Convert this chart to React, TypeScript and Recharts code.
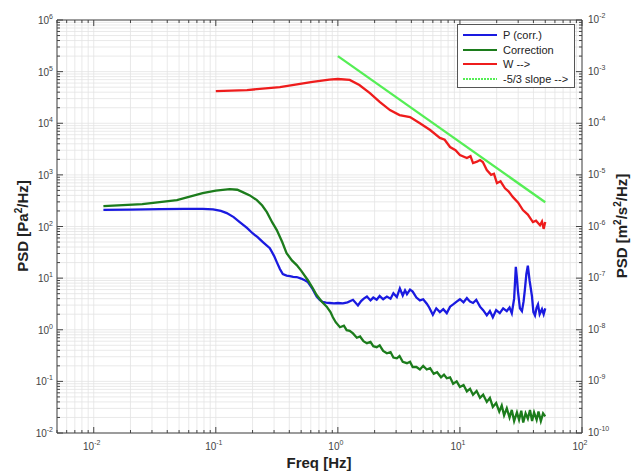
import { LineChart, Line, XAxis, YAxis, CartesianGrid, ReferenceLine } from 'recharts';

// P (corr.) - left axis [Pa^2/Hz]
const pFreq = [0.012, 0.02, 0.035, 0.055, 0.078, 0.095, 0.11, 0.123, 0.14, 0.157, 0.18, 0.2, 0.22, 0.243, 0.277, 0.3, 0.316, 0.335, 0.354, 0.38, 0.404, 0.43, 0.46, 0.5, 0.54, 0.568, 0.62, 0.67, 0.71, 0.75, 0.8, 0.86, 0.93, 1.0, 1.1, 1.2, 1.33, 1.46, 1.55, 1.63, 1.73, 1.85, 1.95, 2.08, 2.2, 2.35, 2.52, 2.7, 2.85, 3.04, 3.22, 3.4, 3.55, 3.68, 3.9, 4.1, 4.4, 4.7, 5.0, 5.35, 5.6, 6.0, 6.4, 6.85, 7.3, 7.8, 8.3, 8.8, 9.4, 10, 10.7, 11.4, 12.1, 12.8, 13.6, 14.6, 15.5, 16.6, 17.6, 18.6, 19.8, 21.2, 22.6, 24.2, 25.5, 26.6, 27.8, 28.7, 29.3, 29.9, 31, 32.2, 33.2, 34, 35, 36, 37.2, 38.9, 40, 41.2, 42.5, 43.6, 45, 47, 48.5, 50];
const pPsd = [210, 212, 217, 219, 220, 214, 200, 182, 152, 122, 94, 74, 62, 50, 38, 27, 20.4, 15, 12, 11.2, 10.9, 10.6, 10.5, 9.8, 9, 8.4, 6.2, 4.4, 3.8, 3.45, 3.35, 3.3, 3.25, 3.3, 3.25, 3.4, 3.8, 2.95, 3.6, 4.0, 4.4, 3.7, 4.2, 3.8, 4.5, 3.9, 4.4, 4.0, 5.1, 4.3, 6.3, 4.6, 5.8, 4.9, 6.0, 5.5, 4.2, 3.7, 3.9, 3.2, 2.7, 1.95, 2.6, 2.2, 2.5, 2.1, 2.8, 3.1, 3.5, 3.9, 3.4, 4.1, 3.5, 3.3, 3.8, 2.8, 2.4, 1.9, 2.3, 1.75, 2.4, 2.1, 2.6, 2.3, 2.7, 2.1, 4.0, 16.5, 10, 5.5, 2.6, 2.3, 3.5, 5.8, 12, 17.5, 9, 4.5, 2.2, 1.9, 2.7, 3.1, 2.0, 2.5, 2.0, 2.6];

// Correction - left axis
const corrFreq = [0.012, 0.025, 0.048, 0.078, 0.1, 0.13, 0.15, 0.166, 0.19, 0.217, 0.24, 0.262, 0.29, 0.316, 0.35, 0.38, 0.42, 0.46, 0.5, 0.568, 0.62, 0.67, 0.73, 0.81, 0.87, 0.91, 0.96, 1.04, 1.12, 1.18, 1.25, 1.33, 1.43, 1.52, 1.62, 1.73, 1.85, 1.95, 2.08, 2.2, 2.35, 2.52, 2.7, 2.85, 3.04, 3.2, 3.4, 3.68, 3.9, 4.1, 4.4, 4.7, 5.0, 5.35, 5.7, 6.1, 6.5, 7.0, 7.4, 7.8, 8.3, 8.8, 9.4, 10, 10.7, 11.4, 12.1, 12.8, 13.7, 14.6, 15.5, 16.6, 17.6, 18.6, 19.8, 21, 22, 23, 24.2, 25.5, 26.6, 27.8, 29.3, 30.5, 31.8, 33, 34.5, 36, 37.5, 39, 40.5, 42.5, 44, 46, 48, 50];
const corrPsd = [248, 272, 324, 443, 495, 531, 515, 464, 400, 324, 255, 190, 120, 85, 50, 30.5, 22, 17.9, 14, 9.1, 6.5, 4.7, 3.6, 2.8, 2.2, 1.75, 1.4, 1.12, 1.2, 0.98, 0.95, 0.85, 0.7, 0.74, 0.6, 0.55, 0.58, 0.48, 0.46, 0.5, 0.39, 0.35, 0.37, 0.29, 0.28, 0.31, 0.24, 0.225, 0.24, 0.19, 0.19, 0.17, 0.2, 0.17, 0.18, 0.14, 0.15, 0.12, 0.135, 0.115, 0.12, 0.09, 0.1, 0.078, 0.085, 0.064, 0.072, 0.055, 0.065, 0.048, 0.055, 0.04, 0.048, 0.032, 0.038, 0.026, 0.034, 0.022, 0.03, 0.02, 0.028, 0.017, 0.025, 0.018, 0.027, 0.016, 0.024, 0.019, 0.028, 0.017, 0.025, 0.018, 0.026, 0.017, 0.024, 0.021];

// W - right axis [m^2/s^2/Hz]
const wFreq = [0.1, 0.18, 0.335, 0.62, 0.85, 1.0, 1.25, 1.5, 1.83, 2.2, 2.67, 3.2, 3.9, 4.7, 5.7, 6.85, 7.5, 8.3, 9.2, 10, 11.4, 12.2, 12.8, 13.8, 14.6, 15.4, 16.6, 18, 19, 20.1, 21.5, 23.4, 25, 27.2, 30, 32.8, 36, 39.6, 42, 45.3, 47, 48.5, 50];
const wPsd = [4.2e-4, 4.4e-4, 5.0e-4, 6.3e-4, 7.0e-4, 7.2e-4, 6.9e-4, 5.5e-4, 3.85e-4, 2.6e-4, 1.8e-4, 1.44e-4, 1.32e-4, 1.0e-4, 7.4e-5, 5.2e-5, 4.8e-5, 3.46e-5, 3.0e-5, 2.42e-5, 2.12e-5, 2.3e-5, 1.69e-5, 1.8e-5, 1.94e-5, 1.77e-5, 1.24e-5, 1.0e-5, 1.05e-5, 6.9e-6, 7.5e-6, 5.5e-6, 4.8e-6, 3.7e-6, 2.9e-6, 2.08e-6, 1.7e-6, 1.22e-6, 1.3e-6, 1.06e-6, 1.25e-6, 0.9e-6, 1.22e-6];

// -5/3 slope - right axis
const slopeFreq = [1, 50];
const slopePsd = [2e-3, 2.95e-6];

const xMajor = [0.01, 0.1, 1, 10, 100];
const leftMajor = [1e-2, 1e-1, 1, 1e1, 1e2, 1e3, 1e4, 1e5, 1e6];
const rightMajor = [1e-10, 1e-9, 1e-8, 1e-7, 1e-6, 1e-5, 1e-4, 1e-3, 1e-2];

const withMinor = (major: number[]) => {
  const out: number[] = [];
  major.forEach((m, i) => {
    out.push(m);
    if (i < major.length - 1) {
      for (let d = 2; d <= 9; d++) out.push(Number((d * m).toPrecision(3)));
    }
  });
  return out;
};

const xTicks = [0.005, 0.006, 0.007, 0.008, 0.009, ...withMinor(xMajor)];
const leftTicks = withMinor(leftMajor);
const rightTicks = withMinor(rightMajor);

const toPoints = (f: number[], v: number[]) => f.map((x, i) => ({ f: x, v: v[i] }));

const W = 632;
const H = 474;
const PLOT_TOP = 20;
const PLOT_H = 413;
const PLOT_W = 525;
const AXIS = '#444';
const FONT = '"Liberation Sans", Arial, Helvetica, sans-serif';

const isMajor = (v: number) => Math.abs(Math.log10(v) - Math.round(Math.log10(v))) < 1e-6;
const expOf = (v: number) => Math.round(Math.log10(v));

const XTick = ({ x, y, payload }: any) => {
  const major = isMajor(payload.value);
  const len = major ? 6 : 3;
  return (
    <g>
      <line x1={x} x2={x} y1={y} y2={y - len} stroke={AXIS} />
      <line x1={x} x2={x} y1={y - PLOT_H} y2={y - PLOT_H + len} stroke={AXIS} />
      {major && (
        <text x={x - 2} y={y + 17} textAnchor="middle" fontSize={10} fill="#444" fontFamily={FONT}>
          10<tspan dy={-5} fontSize={7}>{expOf(payload.value)}</tspan>
        </text>
      )}
    </g>
  );
};

const LeftTick = ({ x, y, payload }: any) => {
  const major = isMajor(payload.value);
  const len = major ? 6 : 3;
  return (
    <g>
      <line x1={x} x2={x + len} y1={y} y2={y} stroke={AXIS} />
      {major && (
        <text x={x - 4} y={y + 4} textAnchor="end" fontSize={10} fill="#444" fontFamily={FONT}>
          10<tspan dy={-5} fontSize={7}>{expOf(payload.value)}</tspan>
        </text>
      )}
    </g>
  );
};

const RightTick = ({ x, y, payload }: any) => {
  const major = isMajor(payload.value);
  const len = major ? 6 : 3;
  return (
    <g>
      <line x1={x} x2={x - len} y1={y} y2={y} stroke={AXIS} />
      {major && (
        <text x={x + 6} y={y + 3} textAnchor="start" fontSize={10} fill="#444" fontFamily={FONT}>
          10<tspan dy={-5} fontSize={7}>{expOf(payload.value)}</tspan>
        </text>
      )}
    </g>
  );
};

const legendItems = [
  { label: 'P (corr.)', color: '#1a1ae0', dash: false },
  { label: 'Correction', color: '#1c7c1c', dash: false },
  { label: 'W -->', color: '#ee1c1c', dash: false },
  { label: '-5/3 slope -->', color: '#55ee55', dash: true },
];

export default function App() {
  return (
    <div style={{ position: 'absolute', left: 0, top: 0, width: W, height: H, background: '#fff', fontFamily: FONT }}>
      <LineChart width={W} height={H} margin={{ top: PLOT_TOP, right: 0, bottom: 0, left: 0 }}>
        <CartesianGrid yAxisId="left" stroke="#e3e3e3" strokeWidth={0.8} />
        <XAxis
          dataKey="f"
          type="number"
          scale="log"
          domain={[0.005, 100]}
          allowDataOverflow
          ticks={xTicks}
          interval={0}
          tickSize={0}
          tickMargin={0}
          tickLine={false}
          height={H - PLOT_TOP - PLOT_H}
          axisLine={{ stroke: AXIS }}
          tick={<XTick />}
        />
        <YAxis
          yAxisId="left"
          type="number"
          scale="log"
          domain={[1e-2, 1e6]}
          allowDataOverflow
          ticks={leftTicks}
          interval={0}
          tickSize={0}
          tickMargin={0}
          tickLine={false}
          width={57}
          axisLine={{ stroke: AXIS }}
          tick={<LeftTick />}
        />
        <YAxis
          yAxisId="right"
          orientation="right"
          type="number"
          scale="log"
          domain={[1e-10, 1e-2]}
          allowDataOverflow
          ticks={rightTicks}
          interval={0}
          tickSize={0}
          tickMargin={0}
          tickLine={false}
          width={W - 57 - PLOT_W}
          axisLine={{ stroke: AXIS }}
          tick={<RightTick />}
        />
        <ReferenceLine yAxisId="left" y={1e6} stroke={AXIS} />
        <Line yAxisId="left" data={toPoints(pFreq, pPsd)} dataKey="v" stroke="#1a1ae0" strokeWidth={2.3} dot={false} isAnimationActive={false} />
        <Line yAxisId="left" data={toPoints(corrFreq, corrPsd)} dataKey="v" stroke="#1c7c1c" strokeWidth={2.3} dot={false} isAnimationActive={false} />
        <Line yAxisId="right" data={toPoints(wFreq, wPsd)} dataKey="v" stroke="#ee1c1c" strokeWidth={2.3} dot={false} isAnimationActive={false} />
        <Line yAxisId="right" data={toPoints(slopeFreq, slopePsd)} dataKey="v" stroke="#55ee55" strokeWidth={2.3} dot={false} isAnimationActive={false} />
      </LineChart>

      <div style={{ position: 'absolute', left: 457, top: 24, width: 118, height: 64, border: '1px solid #555', background: '#fff', boxSizing: 'border-box', padding: '3px 0 0 5px' }}>
        {legendItems.map((it) => (
          <div key={it.label} style={{ display: 'flex', alignItems: 'center', height: 14.5, fontSize: 11, color: '#222' }}>
            <svg width={36} height={6} style={{ marginRight: 4 }}>
              <line x1={0} x2={34} y1={3} y2={3} stroke={it.color} strokeWidth={2} strokeDasharray={it.dash ? '2 1' : undefined} />
            </svg>
            {it.label}
          </div>
        ))}
      </div>

      <div style={{ position: 'absolute', left: 22, top: 226, transform: 'translate(-50%, -50%) rotate(-90deg)', whiteSpace: 'nowrap', fontWeight: 'bold', fontSize: 15, color: '#222' }}>
        PSD [Pa<sup style={{ fontSize: 10 }}>2</sup>/Hz]
      </div>
      <div style={{ position: 'absolute', left: 621, top: 226, transform: 'translate(-50%, -50%) rotate(-90deg)', whiteSpace: 'nowrap', fontWeight: 'bold', fontSize: 15, color: '#222' }}>
        PSD [m<sup style={{ fontSize: 10 }}>2</sup>/s<sup style={{ fontSize: 10 }}>2</sup>/Hz]
      </div>
      <div style={{ position: 'absolute', left: 319, top: 462, transform: 'translate(-50%, -50%)', whiteSpace: 'nowrap', fontWeight: 'bold', fontSize: 15, color: '#222' }}>
        Freq [Hz]
      </div>
    </div>
  );
}
